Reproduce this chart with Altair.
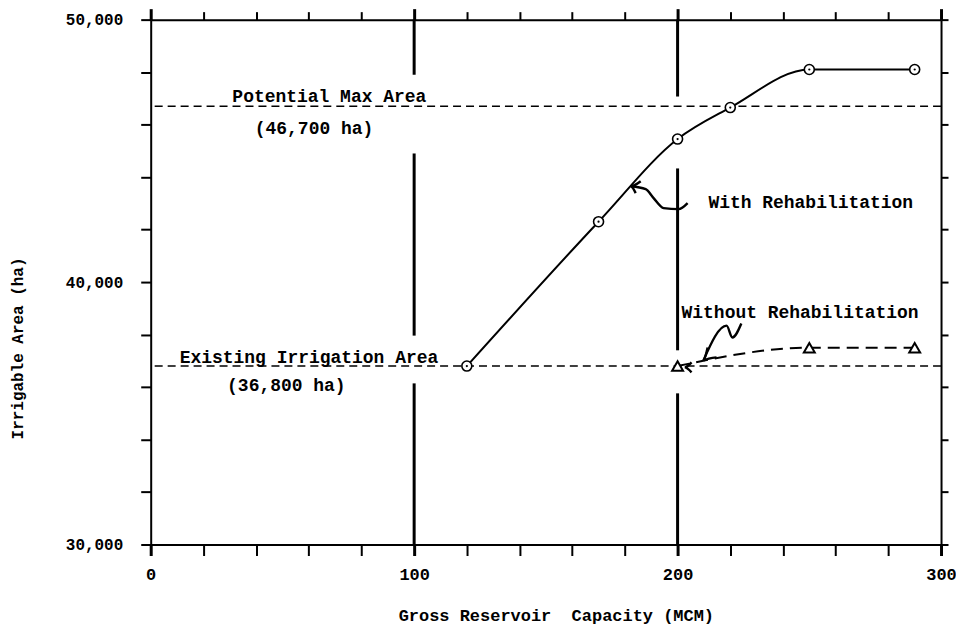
import altair as alt
import pandas as pd

# ---- data ----
with_x = [120, 170, 200, 220, 250, 290]
with_y = [36800, 42300, 45450, 46650, 48100, 48100]

without_x = [200, 250, 290]
without_y = [36800, 37500, 37500]

ref_values = [46700, 36800]

# vertical guide segments (gaps where labels sit)
vline_x = [100, 100, 100, 200, 200, 200]
vline_y1 = [50000, 44900, 36140, 50000, 44330, 35760]
vline_y2 = [47900, 37960, 30000, 47070, 37400, 30000]

# annotation labels
ann_text = ["Potential Max Area", "(46,700 ha)", "Existing Irrigation Area",
            "(36,800 ha)", "With Rehabilitation", "Without Rehabilitation"]
ann_x = [31, 39.5, 11, 29, 211.7, 201.5]
ann_y = [47050, 45850, 37090, 36030, 43010, 38840]

# leader strokes (path id, x, y)
lead_id = ["a"] * 6 + ["b"] * 3 + ["c"] * 4 + ["d"] * 3 + ["e"] * 3
lead_x = [203.8, 200.4, 194.7, 190.9, 187.9, 182.2,
          186.0, 182.2, 184.1,
          224.2, 220.8, 218.6, 209.8,
          211.4, 209.8, 214.8,
          205.3, 202.7, 205.3]
lead_y = [43010, 42780, 42820, 43200, 43540, 43650,
          43840, 43650, 43390,
          38420, 37890, 38340, 37015,
          37510, 37015, 37130,
          36940, 36750, 36560]

FONT = "Liberation Mono"
xs = alt.Scale(domain=[0, 300], nice=False, zero=False)
ys = alt.Scale(domain=[30000, 50000], nice=False, zero=False)

with_df = pd.DataFrame({"x": with_x, "y": with_y})
without_df = pd.DataFrame({"x": without_x, "y": without_y})
ref_df = pd.DataFrame({"y": ref_values})
vl_df = pd.DataFrame({"x": vline_x, "y": vline_y1, "y2": vline_y2})
ann_df = pd.DataFrame({"t": ann_text, "x": ann_x, "y": ann_y})
lead_df = pd.DataFrame({"id": lead_id, "x": lead_x, "y": lead_y,
                        "i": list(range(len(lead_x)))})

xticks = list(range(0, 301, 20))
yticks = list(range(30000, 50001, 2000))
major_x = {"condition": {"test": "datum.value % 100 === 0", "value": 3}, "value": 2}

bottom_axis = alt.Axis(
    values=xticks, labelExpr="datum.value % 100 === 0 ? format(datum.value, 'd') : ''",
    tickSize=11, tickWidth=major_x, tickColor="black",
    domainColor="black", domainWidth=2, grid=False, labelFlush=False,
    labelFont=FONT, labelFontWeight="bold", labelFontSize=17, labelColor="black",
    labelPadding=11, labelAngle=0,
    title="Gross Reservoir\u00a0 Capacity (MCM)", titleFont=FONT,
    titleFontWeight="bold", titleFontSize=17, titleColor="black",
    titleX=406, titleY=71, titleAnchor="start", titleAlign="center",
    titleBaseline="middle")
left_axis = alt.Axis(
    values=yticks, labelExpr="datum.value % 10000 === 0 ? format(datum.value, ',') : ''",
    tickSize=10, tickWidth=2, tickColor="black", labelFlush=False,
    domainColor="black", domainWidth=2, grid=False,
    labelFont=FONT, labelFontWeight="bold", labelFontSize=16, labelColor="black",
    labelPadding=18,
    title="Irrigable Area (ha)", titleFont=FONT, titleFontWeight="bold",
    titleFontSize=16, titleColor="black", titleAngle=270,
    titleX=-133, titleY=329, titleAlign="center", titleBaseline="middle")
top_axis = alt.Axis(
    orient="top", values=xticks, labels=False, title=None,
    tickSize={"condition": {"test": "datum.value % 100 === 0", "value": 11}, "value": 8},
    tickWidth=major_x, tickColor="black", domainColor="black", domainWidth=2,
    grid=False)
right_axis = alt.Axis(
    orient="right", values=yticks, labels=False, title=None, tickSize=7,
    tickWidth=2, tickColor="black", domainColor="black", domainWidth=2,
    grid=False)

vrules = alt.Chart(vl_df).mark_rule(color="black", strokeWidth=3).encode(
    x=alt.X("x:Q", scale=xs, axis=None),
    y=alt.Y("y:Q", scale=ys, axis=None),
    y2="y2:Q")

refs = alt.Chart(ref_df).mark_rule(color="black", strokeWidth=1.6,
                                   strokeDash=[8, 5]).encode(
    y=alt.Y("y:Q", scale=ys, axis=None))

with_line = alt.Chart(with_df).mark_line(color="black", strokeWidth=2,
                                         interpolate="monotone").encode(
    x=alt.X("x:Q", scale=xs, axis=bottom_axis),
    y=alt.Y("y:Q", scale=ys, axis=left_axis))

with_pts = alt.Chart(with_df).mark_point(shape="circle", size=100, filled=True,
                                         fill="white", stroke="black",
                                         strokeWidth=1.6, opacity=1).encode(
    x=alt.X("x:Q", scale=xs, axis=None),
    y=alt.Y("y:Q", scale=ys, axis=None))
with_dots = alt.Chart(with_df).mark_point(shape="circle", size=5, filled=True,
                                          color="black", opacity=1).encode(
    x=alt.X("x:Q", scale=xs, axis=None),
    y=alt.Y("y:Q", scale=ys, axis=None))

without_line = alt.Chart(without_df).mark_line(color="black", strokeWidth=2,
                                               strokeDash=[12, 7],
                                               interpolate="monotone").encode(
    x=alt.X("x:Q", scale=xs, axis=None),
    y=alt.Y("y:Q", scale=ys, axis=None))
without_pts = alt.Chart(without_df).mark_point(shape="triangle-up", size=120,
                                               filled=True, fill="white",
                                               stroke="black", strokeWidth=2,
                                               opacity=1).encode(
    x=alt.X("x:Q", scale=xs, axis=top_axis),
    y=alt.Y("y:Q", scale=ys, axis=right_axis))

leaders = alt.Chart(lead_df).mark_line(color="black", strokeWidth=2.4,
                                       interpolate="monotone").encode(
    x=alt.X("x:Q", scale=xs, axis=None),
    y=alt.Y("y:Q", scale=ys, axis=None),
    detail="id:N", order="i:Q")

labels = alt.Chart(ann_df).mark_text(align="left", baseline="middle", font=FONT,
                                     fontWeight="bold", fontSize=18,
                                     color="black").encode(
    x=alt.X("x:Q", scale=xs, axis=None),
    y=alt.Y("y:Q", scale=ys, axis=None),
    text="t:N")

chart = alt.layer(
    vrules, refs, without_line, leaders, with_line, with_pts, with_dots,
    without_pts, labels
).resolve_axis(x="independent", y="independent").properties(
    width=792, height=526,
    autosize=alt.AutoSizeParams(type="none"),
    padding={"left": 143, "top": 11, "right": 15, "bottom": 84},
).configure_view(stroke=None).configure(background="white")

chart.save("out.html", embed_options={"renderer": "svg", "actions": False})
